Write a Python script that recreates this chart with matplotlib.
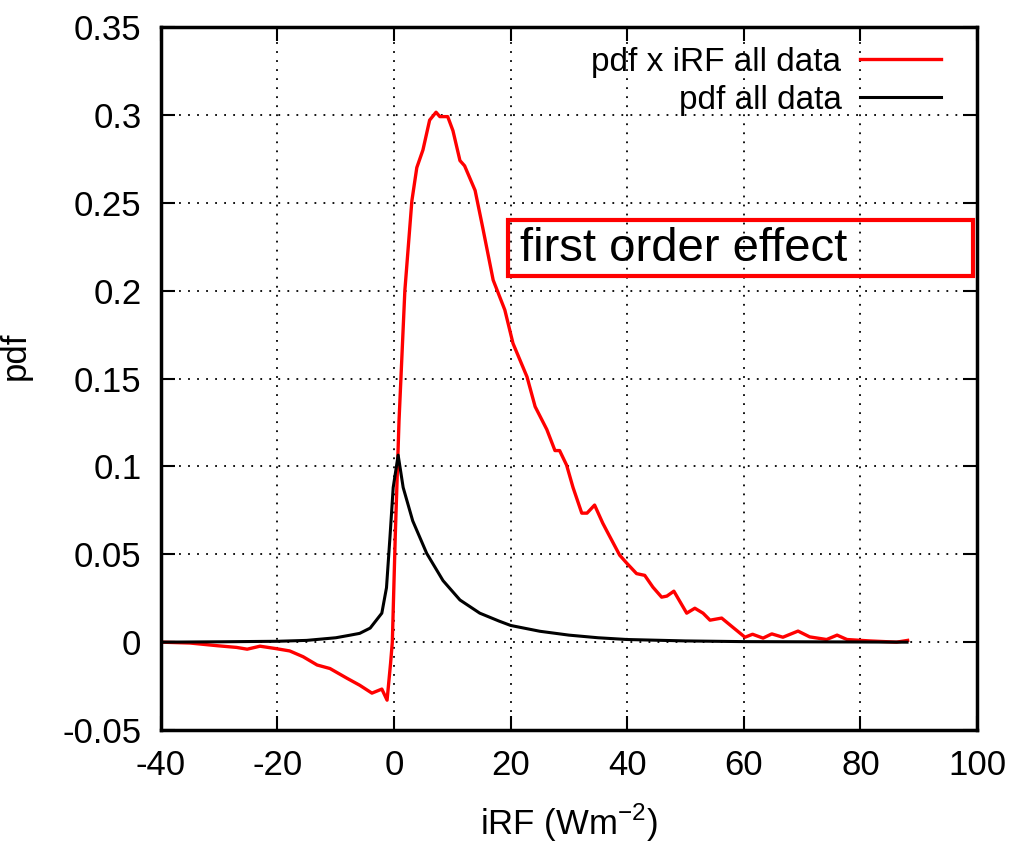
import matplotlib
matplotlib.use('Agg')
import matplotlib.pyplot as plt
from matplotlib import font_manager
from matplotlib.patches import Rectangle

# pick a narrow sans font if there is one
names = {f.name for f in font_manager.fontManager.ttflist}
FONT = 'Liberation Sans Narrow' if 'Liberation Sans Narrow' in names else 'Liberation Sans'
plt.rcParams['font.family'] = [FONT, 'DejaVu Sans']
plt.rcParams['axes.unicode_minus'] = False
plt.rcParams['mathtext.fontset'] = 'custom'
plt.rcParams['mathtext.rm'] = FONT

# pdf x iRF, all data (red)
x_red = [-40, -35, -30.4, -27, -25.2, -23, -20.4, -17.9, -15.6, -13.2, -11, -8.1, -5.9,
         -3.8, -2.1, -1.2, -0.6, -0.3, 0.2, 0.85, 1.85, 3.05, 3.9, 4.95, 6.1, 7.2, 7.85,
         9.2, 10.1, 11.3, 12.1, 13.9, 15.2, 17, 19, 20.4, 22.8, 24.2, 26.2, 27.6, 28.4,
         29.6, 30.7, 32.2, 33.1, 34.4, 35.8, 36.7, 38.7, 39.9, 41.6, 43, 44.4, 45.9, 46.8,
         48, 50.2, 51.6, 53, 54.2, 56.2, 58.1, 60.2, 61.5, 63.3, 64.8, 66.7, 69.3, 71.3,
         74.2, 76, 77.7, 81.6, 86.2, 88.1]
y_red = [0, -0.0005, -0.002, -0.003, -0.004, -0.0023, -0.0036, -0.005, -0.0083, -0.013,
         -0.015, -0.0205, -0.0245, -0.029, -0.0267, -0.033, -0.012, 0.0, 0.06, 0.126, 0.2,
         0.251, 0.27, 0.28, 0.297, 0.3015, 0.299, 0.299, 0.291, 0.274, 0.271, 0.257, 0.236,
         0.206, 0.189, 0.17, 0.151, 0.134, 0.121, 0.109, 0.109, 0.1007, 0.088, 0.0734,
         0.0734, 0.078, 0.0677, 0.062, 0.0495, 0.045, 0.039, 0.038, 0.0313, 0.0256, 0.0262,
         0.029, 0.0165, 0.0193, 0.0165, 0.0125, 0.0137, 0.0085, 0.0028, 0.0045, 0.0023,
         0.0047, 0.0028, 0.0063, 0.003, 0.0015, 0.004, 0.0015, 0.0007, 0.0, 0.001]

# pdf, all data (black)
x_blk = [-40, -30, -20, -15, -10, -7.5, -5.9, -4.1, -2.1, -1.3, -0.7, -0.15, 0.7, 1.56,
         3.2, 5.6, 8.4, 11.3, 14.7, 18, 20, 25, 30, 35, 40, 50, 60, 70, 80, 88]
y_blk = [0, 0.0002, 0.0005, 0.001, 0.0025, 0.004, 0.005, 0.008, 0.0165, 0.031, 0.06,
         0.088, 0.1064, 0.088, 0.069, 0.0505, 0.035, 0.024, 0.0165, 0.012, 0.0095, 0.0062,
         0.004, 0.0025, 0.0015, 0.0007, 0.0003, 0.0002, 0.0001, 0]

fig = plt.figure(figsize=(10.12, 8.43), dpi=100)
ax = fig.add_axes([0.159, 0.134, 0.8064, 0.834])

ax.plot(x_red, y_red, color='#ff0000', lw=2.4, label='pdf x iRF all data')
ax.plot(x_blk, y_blk, color='black', lw=2.2, label='pdf all data')

ax.set_xlim(-40, 100)
ax.set_ylim(-0.05, 0.35)
ax.set_xticks(range(-40, 101, 20))
ax.set_yticks([-0.05, 0, 0.05, 0.1, 0.15, 0.2, 0.25, 0.3, 0.35])
ax.set_yticklabels(['-0.05', '0', '0.05', '0.1', '0.15', '0.2', '0.25', '0.3', '0.35'])
ax.grid(True, color='black', linestyle=(0, (1, 4)), lw=1.3)
ax.tick_params(direction='in', length=10, width=1.5, top=True, right=True,
               labelsize=25, pad=14)
for s in ax.spines.values():
    s.set_linewidth(2.5)

ax.set_xlabel('iRF (Wm$^{-2}$)', fontsize=25, labelpad=14)
ax.set_ylabel('pdf', fontsize=25)
ax.yaxis.set_label_coords(-0.158, 0.533)

ax.legend(loc='upper right', frameon=False, markerfirst=False, fontsize=24,
          handlelength=2.45, labelspacing=0.2, bbox_to_anchor=(0.981, 1.0),
          handletextpad=0.55, borderaxespad=0.2)

# annotation box
ax.add_patch(Rectangle((19.6, 0.2085), 79.8, 0.0315, fill=False, edgecolor='#ff0000',
                       lw=3, zorder=5))
ax.text(21.6, 0.2235, 'first order effect', fontsize=34, va='center', ha='left',
        family='Liberation Sans', zorder=6)

fig.savefig('out.png', dpi=100)
